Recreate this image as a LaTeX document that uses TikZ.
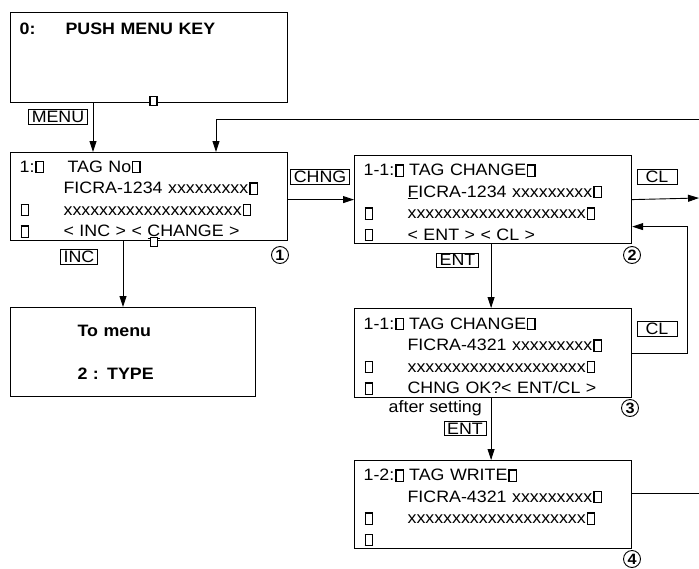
\documentclass[tikz,border=0pt]{standalone}
\usepackage{fontspec}
\setmainfont{Liberation Sans}[FakeStretch=1.08]
\usetikzlibrary{arrows.meta}

% empty glyph cell as shown on the display
\newcommand{\gbox}{{\setlength{\fboxsep}{0pt}\setlength{\fboxrule}{1.2pt}\kern1pt\fbox{\rule{0pt}{10pt}\hspace{6pt}}}}
\newcommand{\lft}[1]{\makebox[44pt][l]{#1}}
\newcommand{\rowtop}{\rule{0pt}{17.5pt}}

\begin{document}
\begin{tikzpicture}[x=1pt, y=-1pt,
    lcd/.style={draw, line width=1.2pt, anchor=north west,
                minimum width=277pt, minimum height=88pt,
                text width=259pt, align=left, inner xsep=9pt, inner ysep=0pt,
                font=\fontsize{16.5}{21.5}\selectfont},
    key/.style={draw, line width=0.6pt, inner xsep=3pt, inner ysep=1.5pt,
                font=\fontsize{16.5}{18}\selectfont},
    num/.style={circle, draw, line width=0.9pt, inner sep=0pt,
                minimum size=17pt, font=\fontsize{15}{15}\selectfont\bfseries},
    gap/.style={draw, fill=white, line width=1.2pt, inner sep=0pt,
                minimum width=7pt, minimum height=9pt},
    arr/.style={-{Triangle[length=11pt,width=7pt]}, line width=0.9pt},
  ]
  \useasboundingbox (0,0) rectangle (699,568);

  % display screens
  \node[lcd, minimum height=90pt] (b0) at (10,12) {%
    \rowtop\makebox[46pt][l]{\bfseries 0:}\textbf{PUSH MENU KEY}\\
    \mbox{}\\ \mbox{}\\ \mbox{}};
  \node[lcd] (b1) at (10,152) {%
    \rowtop\makebox[48pt][l]{1:\gbox}TAG No\gbox\\
    \lft{}FICRA-1234 xxxxxxxxx\gbox\\
    \lft{\gbox}xxxxxxxxxxxxxxxxxxxx\gbox\\
    \lft{\gbox}< INC > < \underline{C}HANGE >};
  \node[lcd] (b2) at (354,155) {%
    \rowtop 1-1:\gbox{} TAG CHANGE\gbox\\
    \lft{}\underline{F}ICRA-1234 xxxxxxxxx\gbox\\
    \lft{\gbox}xxxxxxxxxxxxxxxxxxxx\gbox\\
    \lft{\gbox}< ENT > < CL >};
  \node[lcd, minimum height=89pt] (b3) at (354,308) {%
    \rowtop 1-1:\gbox{} TAG CHANGE\gbox\\
    \lft{}FICRA-4321 xxxxxxxxx\gbox\\
    \lft{\gbox}xxxxxxxxxxxxxxxxxxxx\gbox\\
    \lft{\gbox}CHNG OK?< ENT/CL >};
  \node[lcd] (b4) at (354,460) {%
    \rowtop 1-2:\gbox{} TAG WRITE\gbox\\
    \lft{}FICRA-4321 xxxxxxxxx\gbox\\
    \lft{\gbox}xxxxxxxxxxxxxxxxxxxx\gbox\\
    \lft{\gbox}};
  \node[lcd, minimum width=245pt, minimum height=89pt, text width=111pt,
        inner xsep=67pt, font=\fontsize{16.5}{21.5}\selectfont\bfseries] (tm) at (10,307) {%
    To menu\\[21.5pt]
    2 : TYPE};

  % stray cells on the frames
  \node[gap] (g0) at (153.5,101) {};
  \node[gap] (g1) at (154,242) {};

  % keys
  \node[key] (kmenu) at (58,117) {MENU};
  \node[key] (kinc) at (79,257) {INC};
  \node[key] (kchng) at (320,177) {CHNG};
  \node[key, minimum width=40pt] (kcl1) at (657,177) {CL};
  \node[key] (kent1) at (457.5,260) {ENT};
  \node[key, minimum width=40pt] (kcl2) at (657,329) {CL};
  \node[key] (kent2) at (465,428.5) {ENT};
  \node[anchor=east, inner sep=0pt, font=\fontsize{16.5}{18}\selectfont] (aset) at (482,408) {after setting};

  % step numbers
  \node[num] (n1) at (280,255) {1};
  \node[num] (n2) at (632,255) {2};
  \node[num] (n3) at (630,408) {3};
  \node[num] (n4) at (632,559) {4};

  % flow
  \coordinate (rin) at (699,119);
  \coordinate (rout) at (699,198);
  \coordinate (wout) at (699,493);
  \draw[arr] ([xshift=83pt]b0.south west) -- ([xshift=83pt]b1.north west);
  \draw[arr] (rin) -| ([xshift=206pt]b1.north west);
  \draw[arr] (b1.east |- b2.west) -- (b2.west);
  \draw[arr] ([xshift=113pt]b1.south west) -- ([xshift=113pt]tm.north west);
  \draw[arr] (b2.east) -- (rout);
  \draw[arr] ([xshift=-2pt]b2.south) -- ([xshift=-2pt]b3.north);
  \draw[arr] (b3.east) -- ++(55,0) |- ([yshift=-27pt]b2.east);
  \draw[arr] ([xshift=-2pt]b3.south) -- ([xshift=-2pt]b4.north);
  \draw[line width=0.9pt] (b4.east |- wout) -- (wout);
\end{tikzpicture}
\end{document}
